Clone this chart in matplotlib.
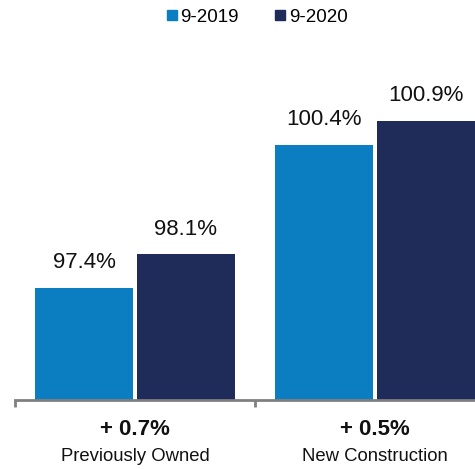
import numpy as np
import matplotlib.pyplot as plt
from matplotlib.lines import Line2D
from matplotlib.transforms import blended_transform_factory

plt.rcParams['font.family'] = ['Liberation Sans', 'DejaVu Sans']

categories = ['Previously Owned', 'New Construction']
series_names = ['9-2019', '9-2020']
values_2019 = [97.4, 100.4]
values_2020 = [98.1, 100.9]
changes = ['+ 0.7%', '+ 0.5%']

colors = ['#0b7dc1', '#1f2c59']

fig = plt.figure(figsize=(4.75, 4.69), dpi=100)
ax = fig.add_axes([15 / 475, 69 / 469, 460 / 475, 360 / 469])

x = np.arange(len(categories))
width = 0.405
offset = 0.2125

for vals, off, color in zip([values_2019, values_2020], [-offset, offset], colors):
	bars = ax.bar(x + off, vals, width=width, color=color, bottom=0)
	for rect, v in zip(bars, vals):
		ax.text(rect.get_x() + rect.get_width() / 2, v + 0.3, f'{v:.1f}%',
			ha='center', va='bottom', fontsize=16, color='#111111')

ax.set_ylim(95.04, 95.04 + 360 / 47.66)
ax.set_xlim(-0.5, 1.4167)

for side in ['top', 'right', 'left']:
	ax.spines[side].set_visible(False)
ax.spines['bottom'].set_color('#808080')
ax.spines['bottom'].set_linewidth(2)
ax.set_yticks([])
ax.set_xticks([-0.5, 0.5])
ax.set_xticklabels([])
ax.tick_params(axis='x', direction='out', length=5, width=2, color='#808080')

trans = blended_transform_factory(ax.transData, ax.transAxes)
for xi, cat, ch in zip(x, categories, changes):
	ax.text(xi, -29.5 / 360, ch, transform=trans, ha='center', va='center',
		fontsize=16, fontweight='bold', color='#111111')
	ax.text(xi, -56 / 360, cat, transform=trans, ha='center', va='center',
		fontsize=13.3, color='#111111')

handles = [Line2D([], [], marker='s', linestyle='none', markersize=7, color=c) for c in colors]
fig.legend(handles, series_names, loc='center', bbox_to_anchor=(257 / 475, 1 - 17 / 469),
	ncol=2, frameon=False, fontsize=13.5, handlelength=0.6, handletextpad=0.15,
	columnspacing=1.9, borderpad=0)

fig.savefig('out.png', dpi=100)
